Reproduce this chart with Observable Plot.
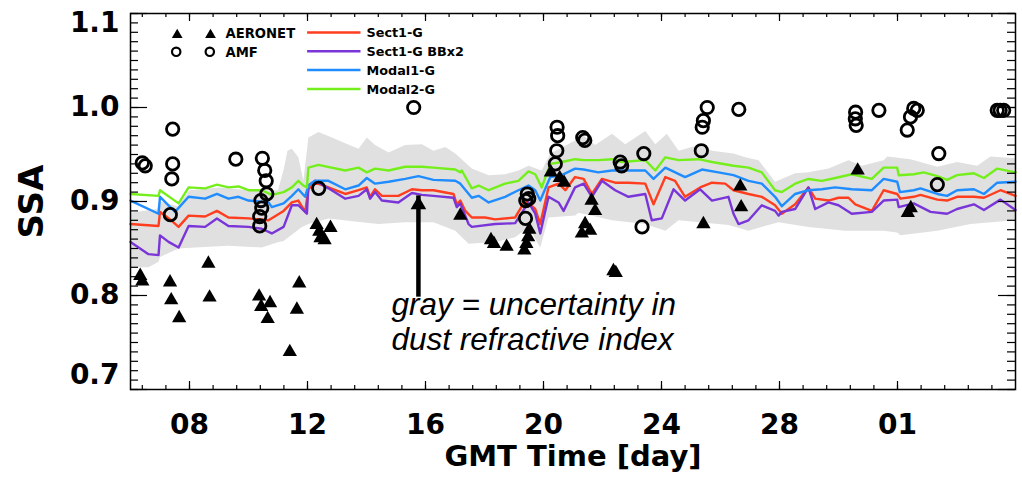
<!DOCTYPE html>
<html><head><meta charset="utf-8">
<script src="https://cdn.jsdelivr.net/npm/d3@7"></script>
<script src="https://cdn.jsdelivr.net/npm/@observablehq/plot@0.6"></script>
<style>
html,body{margin:0;padding:0;background:#fff;}
#chart{width:1022px;height:479px;overflow:hidden;}
</style></head><body><div id="chart"></div>
<script>
// ---- data: [day, SSA] ----
const sect1G = [[6.0,0.876],[6.95,0.874],[7.0,0.889],[7.3,0.882],[7.63,0.873],[7.97,0.885],[8.53,0.884],[8.93,0.890],[9.32,0.883],[10.0,0.882],[10.68,0.880],[11.19,0.890],[11.47,0.899],[11.69,0.901],[11.92,0.889],[12.03,0.913],[12.26,0.920],[12.71,0.915],[13.28,0.908],[13.73,0.912],[14.01,0.915],[14.12,0.905],[14.29,0.913],[14.52,0.906],[15.08,0.906],[15.54,0.913],[15.88,0.912],[16.27,0.912],[16.95,0.908],[17.06,0.897],[17.18,0.901],[17.35,0.890],[17.57,0.883],[18.02,0.883],[18.36,0.881],[19.04,0.883],[19.38,0.901],[19.72,0.892],[19.89,0.876],[20.17,0.915],[20.51,0.919],[20.74,0.912],[21.07,0.926],[21.36,0.924],[21.64,0.908],[21.98,0.924],[22.43,0.920],[22.88,0.920],[23.45,0.919],[23.73,0.897],[24.13,0.926],[24.46,0.922],[24.8,0.905],[25.31,0.915],[25.71,0.920],[26.16,0.919],[26.44,0.912],[26.95,0.908],[27.4,0.905],[27.85,0.896],[28.08,0.887],[28.53,0.897],[28.98,0.915],[29.21,0.903],[29.66,0.901],[30.0,0.904],[30.34,0.904],[30.57,0.897],[31.13,0.890],[31.53,0.912],[31.99,0.908],[32.1,0.903],[32.55,0.905],[32.78,0.907],[33.35,0.902],[33.68,0.901],[34.02,0.905],[34.59,0.905],[34.93,0.904],[35.49,0.912],[36.0,0.906]];
const sect1GBBx2 = [[6.0,0.857],[6.61,0.844],[6.95,0.843],[7.0,0.864],[7.29,0.857],[7.63,0.851],[7.97,0.874],[8.53,0.873],[8.93,0.882],[9.32,0.874],[10.0,0.873],[10.45,0.871],[10.79,0.866],[11.19,0.873],[11.47,0.896],[11.69,0.896],[11.92,0.889],[11.98,0.887],[12.03,0.917],[12.26,0.922],[12.71,0.914],[13.28,0.903],[13.73,0.906],[14.01,0.913],[14.12,0.903],[14.29,0.910],[14.52,0.901],[15.08,0.899],[15.54,0.909],[15.88,0.907],[16.27,0.906],[16.95,0.904],[17.06,0.894],[17.18,0.898],[17.46,0.876],[17.57,0.873],[18.36,0.876],[19.04,0.877],[19.49,0.899],[19.72,0.887],[19.89,0.866],[20.17,0.905],[20.51,0.899],[20.68,0.890],[21.07,0.915],[21.36,0.919],[21.64,0.905],[21.98,0.922],[22.43,0.912],[22.88,0.905],[23.45,0.908],[23.67,0.880],[24.01,0.882],[24.41,0.913],[24.8,0.901],[25.31,0.913],[25.71,0.901],[26.27,0.905],[26.44,0.887],[26.61,0.876],[26.95,0.880],[27.4,0.896],[27.85,0.890],[27.97,0.885],[28.08,0.889],[28.53,0.892],[28.98,0.915],[29.21,0.892],[29.66,0.899],[30.0,0.896],[30.45,0.887],[31.13,0.889],[31.53,0.901],[31.99,0.902],[32.04,0.894],[32.55,0.898],[33.12,0.889],[33.68,0.887],[34.02,0.892],[34.59,0.897],[34.93,0.891],[35.49,0.902],[36.0,0.891]];
const modal1G = [[6.0,0.901],[6.95,0.887],[7.0,0.905],[7.51,0.889],[7.97,0.905],[8.53,0.903],[8.93,0.908],[9.32,0.903],[9.66,0.905],[10.0,0.901],[10.68,0.899],[10.79,0.894],[11.19,0.898],[11.47,0.906],[11.69,0.913],[11.92,0.905],[12.03,0.917],[12.26,0.922],[12.71,0.922],[13.28,0.913],[13.73,0.917],[14.01,0.925],[14.29,0.919],[14.75,0.921],[15.31,0.924],[15.76,0.927],[16.27,0.923],[17.01,0.922],[17.18,0.919],[17.57,0.904],[17.8,0.906],[18.14,0.899],[18.7,0.905],[19.15,0.912],[19.49,0.917],[19.72,0.912],[19.89,0.901],[20.23,0.926],[20.62,0.928],[21.07,0.935],[21.36,0.934],[21.86,0.931],[22.32,0.933],[23.45,0.933],[23.73,0.924],[24.13,0.936],[24.8,0.926],[25.37,0.934],[25.93,0.931],[26.44,0.928],[26.95,0.922],[27.4,0.919],[27.85,0.905],[28.08,0.895],[28.53,0.908],[28.98,0.912],[29.43,0.913],[29.89,0.915],[30.45,0.913],[31.13,0.912],[31.53,0.924],[31.99,0.921],[32.08,0.910],[32.55,0.912],[32.78,0.914],[33.35,0.908],[33.68,0.906],[34.02,0.912],[34.59,0.913],[34.93,0.908],[35.38,0.920],[36.0,0.921]];
const modal2G = [[6.0,0.908],[6.95,0.906],[7.0,0.912],[7.63,0.898],[7.97,0.915],[8.53,0.914],[8.93,0.918],[9.32,0.915],[9.66,0.916],[10.0,0.912],[10.45,0.912],[10.79,0.907],[11.19,0.910],[11.47,0.915],[11.69,0.922],[11.86,0.917],[11.98,0.915],[12.03,0.936],[12.37,0.939],[13.28,0.933],[13.73,0.936],[14.01,0.931],[14.29,0.935],[14.75,0.933],[15.31,0.937],[15.88,0.937],[16.27,0.936],[17.01,0.934],[17.18,0.931],[17.23,0.933],[17.57,0.914],[17.8,0.917],[18.14,0.912],[18.7,0.919],[19.15,0.922],[19.49,0.932],[19.72,0.929],[19.94,0.915],[20.23,0.940],[20.62,0.942],[21.07,0.945],[21.36,0.944],[21.86,0.944],[22.32,0.945],[22.65,0.942],[23.45,0.944],[23.79,0.933],[24.13,0.947],[24.58,0.944],[25.25,0.945],[25.71,0.942],[26.44,0.938],[26.95,0.936],[27.4,0.931],[27.85,0.912],[28.08,0.910],[28.53,0.919],[28.98,0.924],[29.43,0.922],[29.89,0.925],[30.45,0.929],[31.13,0.924],[31.53,0.936],[31.99,0.936],[32.04,0.928],[32.55,0.929],[32.89,0.931],[33.35,0.927],[33.68,0.923],[34.02,0.928],[34.59,0.930],[34.93,0.925],[35.38,0.935],[36.0,0.931]];
const bandUpper = [[6.0,0.888],[6.9,0.892],[7.0,0.900],[7.6,0.895],[8.0,0.912],[9.0,0.915],[10.0,0.912],[11.0,0.912],[11.2,0.935],[11.32,0.954],[11.47,0.956],[11.69,0.947],[11.86,0.922],[12.03,0.968],[12.37,0.974],[12.83,0.968],[13.28,0.962],[13.73,0.956],[14.01,0.968],[14.29,0.960],[14.75,0.952],[15.31,0.960],[15.88,0.961],[16.27,0.954],[16.67,0.958],[17.01,0.951],[17.57,0.935],[18.14,0.928],[18.7,0.929],[19.15,0.933],[19.49,0.938],[19.94,0.933],[20.23,0.951],[21.07,0.965],[21.36,0.970],[21.75,0.960],[22.32,0.972],[22.77,0.961],[23.45,0.975],[23.79,0.961],[24.18,0.972],[24.58,0.954],[25.25,0.960],[25.71,0.954],[26.44,0.951],[26.84,0.947],[27.29,0.944],[27.85,0.921],[28.53,0.930],[28.98,0.931],[29.66,0.935],[30.34,0.944],[30.79,0.938],[31.53,0.944],[31.65,0.948],[32.44,0.945],[33.35,0.937],[34.02,0.942],[34.7,0.938],[35.15,0.948],[36.0,0.946]];
const bandLower = [[6.0,0.830],[6.61,0.830],[6.95,0.836],[7.0,0.841],[7.63,0.850],[8.19,0.851],[9.32,0.853],[10.45,0.851],[11.02,0.857],[11.19,0.858],[11.81,0.873],[12.03,0.876],[12.71,0.882],[13.84,0.878],[14.41,0.876],[15.31,0.878],[16.27,0.878],[17.01,0.869],[17.46,0.855],[18.36,0.857],[19.04,0.862],[19.49,0.873],[19.89,0.851],[20.17,0.883],[21.07,0.885],[21.19,0.888],[22.32,0.880],[23.45,0.876],[24.13,0.869],[24.58,0.880],[26.27,0.875],[26.95,0.869],[27.97,0.878],[28.98,0.873],[30.23,0.869],[31.53,0.869],[31.99,0.867],[32.1,0.864],[33.35,0.869],[34.47,0.876],[36.0,0.880]];
const aeronet = [[6.33,0.821],[6.4,0.815],[7.34,0.814],[7.38,0.795],[7.65,0.776],[8.64,0.834],[8.68,0.798],[10.36,0.799],[10.43,0.788],[10.73,0.792],[10.65,0.775],[11.4,0.740],[11.72,0.813],[11.64,0.785],[12.31,0.875],[12.44,0.861],[12.58,0.859],[12.78,0.872],[12.4,0.868],[17.18,0.885],[18.22,0.859],[18.32,0.855],[18.75,0.852],[19.35,0.848],[19.42,0.855],[19.48,0.862],[19.52,0.870],[20.25,0.931],[20.55,0.925],[20.7,0.920],[21.3,0.866],[21.41,0.876],[21.58,0.869],[21.63,0.901],[21.75,0.890],[22.37,0.826],[22.45,0.824],[25.42,0.876],[26.67,0.916],[26.7,0.894],[30.65,0.933],[32.35,0.888],[32.45,0.893]];
const amf = [[6.4,0.941],[6.5,0.938],[7.43,0.977],[7.43,0.940],[7.4,0.924],[7.35,0.886],[9.57,0.945],[10.47,0.946],[10.55,0.933],[10.6,0.922],[10.62,0.908],[10.42,0.901],[10.45,0.893],[10.38,0.884],[10.38,0.874],[12.38,0.914],[15.6,1.000],[19.45,0.908],[19.4,0.901],[19.5,0.903],[19.39,0.882],[20.46,0.979],[20.48,0.970],[20.45,0.954],[20.4,0.940],[21.33,0.968],[21.4,0.965],[22.6,0.942],[22.65,0.938],[23.4,0.951],[23.34,0.873],[25.35,0.954],[25.38,0.979],[25.42,0.986],[25.55,1.000],[26.62,0.998],[30.58,0.995],[30.57,0.988],[30.6,0.981],[31.37,0.997],[32.33,0.976],[32.44,0.990],[32.55,0.999],[32.67,0.997],[33.4,0.951],[33.35,0.918],[35.38,0.997],[35.48,0.997],[35.6,0.997]];

const seriesNames = ["Sect1-G", "Sect1-G BBx2", "Modal1-G", "Modal2-G"];
const seriesColors = ["#ff3d1f", "#7a35d8", "#1f8cff", "#74ef1c"];
const markerNames = ["AERONET", "AMF"];
const xMajorTicks = [8, 12, 16, 20, 24, 28, 32];
const xTickLabels = ["08", "12", "16", "20", "24", "28", "01"];
const yMajorTicks = [0.7, 0.8, 0.9, 1.0, 1.1];
const noteLines = ["gray = uncertainty in", "dust refractive index"];
const arrowNote = [{x: 15.76, y1: 0.811, y2: 0.906}];
const noteAnchors = [{x: 14.85, y: 0.779}, {x: 14.85, y: 0.7415}];

// ---- chart ----
const series = [sect1G, sect1GBBx2, modal1G, modal2G];
const xMinorTicks = d3.range(6.4, 36, 0.8).map(v => +v.toFixed(2));
const yMinorTicks = d3.range(70, 111).map(v => v / 100);
const bandPolygon = bandUpper.concat(bandLower.slice().reverse());
const BOLD = "DejaVu Sans";
const X = d => d[0], Y = d => d[1];
const hline = {draw(ctx) { ctx.moveTo(-26.7, 0); ctx.lineTo(26.7, 0); }};
const FW = 885, FH = 376; // frame size in px (tick insets)
const tk = {stroke: "black", strokeWidth: 1.2};

const tickMarks = [
  Plot.tickX(xMajorTicks, {x: d => d, insetTop: FH - 8, ...tk}),
  Plot.tickX(xMinorTicks, {x: d => d, insetTop: FH - 4, ...tk}),
  Plot.tickX(xMajorTicks, {x: d => d, insetBottom: FH - 8, ...tk}),
  Plot.tickX(xMinorTicks, {x: d => d, insetBottom: FH - 4, ...tk}),
  Plot.tickY(yMajorTicks, {y: d => d, insetRight: FW - 17, ...tk}),
  Plot.tickY(yMinorTicks, {y: d => d, insetRight: FW - 8, ...tk}),
  Plot.tickY(yMajorTicks, {y: d => d, insetLeft: FW - 17, ...tk}),
  Plot.tickY(yMinorTicks, {y: d => d, insetLeft: FW - 8, ...tk})
];
const yLab = {anchor: "left", tickSize: 0, tickPadding: 11, tickFormat: d => d.toFixed(1), fontSize: 28, fontWeight: "bold", fontFamily: BOLD, label: null};

const legendMarks = [];
legendMarks.push(Plot.dot([markerNames[0]], {frameAnchor: "top-left", dx: 46.7, dy: 21.5, symbol: "triangle", r: 4, fill: "black"}));
legendMarks.push(Plot.dot([markerNames[0]], {frameAnchor: "top-left", dx: 80, dy: 21.5, symbol: "triangle", r: 4, fill: "black"}));
legendMarks.push(Plot.dot([markerNames[1]], {frameAnchor: "top-left", dx: 45.7, dy: 38.3, r: 4.2, stroke: "black", strokeWidth: 2.2, fill: "none"}));
legendMarks.push(Plot.dot([markerNames[1]], {frameAnchor: "top-left", dx: 79.3, dy: 38.3, r: 4.2, stroke: "black", strokeWidth: 2.2, fill: "none"}));
markerNames.forEach((n, i) => legendMarks.push(Plot.text([n], {frameAnchor: "top-left", dx: 95, dy: 24.3 + i * 19, text: d => d, textAnchor: "start", lineAnchor: "bottom", fontSize: 13.2, fontWeight: "bold", fontFamily: BOLD})));
seriesNames.forEach((n, i) => {
  legendMarks.push(Plot.dot([n], {frameAnchor: "top-left", dx: 203.3, dy: 19 + i * 18.8, symbol: hline, r: 3, stroke: seriesColors[i], strokeWidth: 2.5, fill: "none"}));
  legendMarks.push(Plot.text([n], {frameAnchor: "top-left", dx: 236, dy: 23.8 + i * 18.8, text: d => d, textAnchor: "start", lineAnchor: "bottom", fontSize: 12.8, fontWeight: "bold", fontFamily: BOLD}));
});

const chart = Plot.plot({
  width: 1022, height: 479,
  marginLeft: 130, marginRight: 7, marginTop: 13, marginBottom: 90,
  x: {domain: [6, 36], axis: null},
  y: {domain: [0.7, 1.1], axis: null},
  style: {background: "white", color: "black", fontFamily: BOLD},
  marks: [
    Plot.line(bandPolygon, {x: X, y: Y, fill: "#e0e0e0", stroke: "none"}),
    ...series.map((s, i) => Plot.line(s, {x: X, y: Y, stroke: seriesColors[i], strokeWidth: 2.4})),
    Plot.dot(aeronet, {x: X, y: Y, symbol: "triangle", r: 5.3, fill: "black"}),
    Plot.dot(amf, {x: X, y: Y, r: 6.2, stroke: "black", strokeWidth: 2.8, fill: "none"}),
    Plot.ruleX(arrowNote, {x: "x", y1: "y1", y2: "y2", stroke: "black", strokeWidth: 4.5, insetTop: 12}),
    Plot.dot(arrowNote, {x: "x", y: "y2", symbol: "triangle", r: 5.8, fill: "black", dy: 9}),
    Plot.text(noteAnchors, {x: "x", y: "y", text: (d, i) => noteLines[i], textAnchor: "start", lineAnchor: "bottom", fontSize: 31.5, fontStyle: "italic", fontFamily: "Liberation Sans, Arial, sans-serif"}),
    ...legendMarks,
    Plot.frame({stroke: "black", strokeWidth: 1.5}),
    ...tickMarks,
    Plot.axisX(xMajorTicks, {anchor: "bottom", tickSize: 0, tickPadding: 25, tickFormat: d => xTickLabels[xMajorTicks.indexOf(d)], fontSize: 28, fontWeight: "bold", fontFamily: BOLD, label: null}),
    Plot.axisY([0.8, 0.9, 1.0], yLab),
    Plot.axisY([1.1], {...yLab, dy: 10}),
    Plot.axisY([0.7], {...yLab, dy: -14}),
    Plot.text(["SSA"], {frameAnchor: "left", dx: -98, rotate: -90, textAnchor: "middle", text: d => d, fontSize: 34, fontWeight: "bold", fontFamily: BOLD}),
    Plot.text(["GMT Time [day]"], {frameAnchor: "bottom", dy: 76, lineAnchor: "bottom", text: d => d, fontSize: 29, fontWeight: "bold", fontFamily: BOLD})
  ]
});
document.getElementById("chart").appendChild(chart);
</script></body></html>
